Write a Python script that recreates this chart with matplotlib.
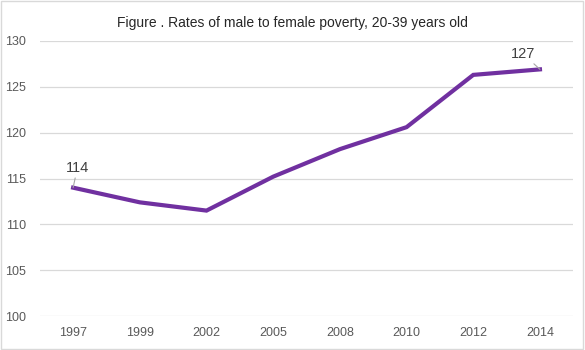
import numpy as np
import matplotlib.pyplot as plt

plt.rcParams['font.family'] = ['Liberation Sans', 'DejaVu Sans']

years = ["1997", "1999", "2002", "2005", "2008", "2010", "2012", "2014"]
ratio = [114.0, 112.4, 111.5, 115.2, 118.2, 120.6, 126.3, 126.9]
labels = {0: "114", 7: "127"}

grey = "#595959"
fig = plt.figure(figsize=(5.85, 3.5), dpi=100)
ax = fig.add_axes([0.068, 0.097, 0.912, 0.786])

x = np.arange(len(years))
ax.plot(x, ratio, color="#7030A0", lw=3.0, solid_joinstyle="miter", zorder=3)

ax.set_xlim(-0.5, len(years) - 0.5)
ax.set_ylim(100, 130)
ax.set_yticks(range(100, 131, 5))
ax.set_xticks(x)
ax.set_xticklabels(years)
ax.grid(axis="y", color="#d9d9d9", lw=0.9)
ax.set_axisbelow(True)
for s in ax.spines.values():
    s.set_visible(False)
ax.tick_params(length=0, labelsize=9, colors=grey, pad=8)
ax.tick_params(axis="y", pad=10)

offsets = {0: (3, 9), 7: (-12, 6)}
for i, txt in labels.items():
    ax.annotate(txt, (x[i], ratio[i]), xytext=offsets[i], textcoords="offset points",
                ha="center", va="bottom", fontsize=10.5, color="#404040",
                arrowprops=dict(arrowstyle="-", color="#a6a6a6", lw=0.8,
                                shrinkA=0, shrinkB=0))

fig.text(0.5, 0.935, "Figure . Rates of male to female poverty, 20-39 years old",
         ha="center", va="center", fontsize=10, color="#262626")

fig.patches.append(plt.Rectangle((0.002, 0.003), 0.995, 0.994, transform=fig.transFigure,
                                 fill=False, edgecolor="#d9d9d9", lw=1))

fig.savefig("out.png", dpi=100)
